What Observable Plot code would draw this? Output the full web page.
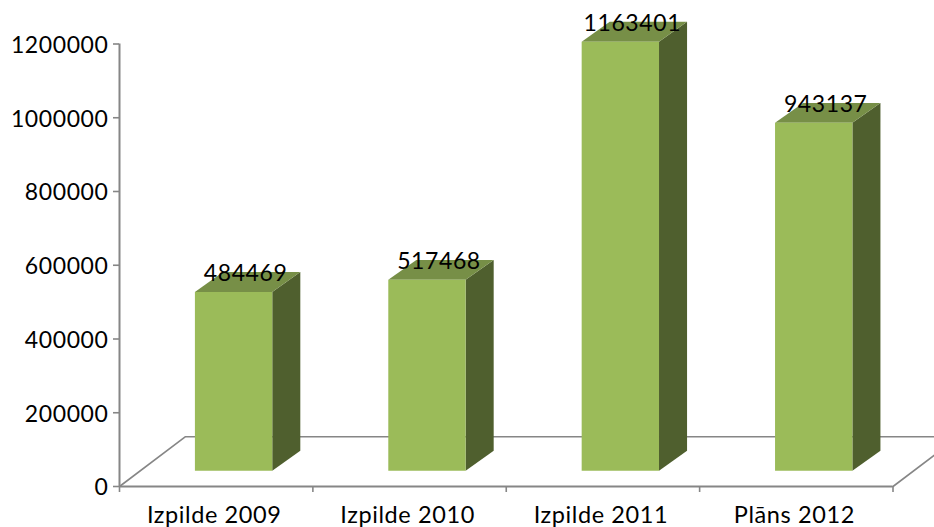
<!DOCTYPE html>
<html>
<head>
<meta charset="utf-8">
<style>html,body{margin:0;padding:0;background:#fff;overflow:hidden}</style>
<script src="https://cdn.jsdelivr.net/npm/d3@7"></script>
<script src="https://cdn.jsdelivr.net/npm/@observablehq/plot@0.6"></script>
</head>
<body>
<div id="chart"></div>
<script>
const categories = ["Izpilde 2009", "Izpilde 2010", "Izpilde 2011", "Plāns 2012"];
const values = [484469, 517468, 1163401, 943137];
const yTicks = [0, 200000, 400000, 600000, 800000, 1000000, 1200000];
const xTicks = [0, 1, 2, 3, 4];
const colFront = "#9bbb59", colSide = "#4f5f2e", colTop = "#778f47", colAxis = "#868686";

// perspective offsets, in data units
const base = 43000, depthX = 0.145, depthY = 54000, barLeft = 0.39, barWidth = 0.4;
const floorX = 66 / 193.4, floorY = 135000, rightEdgeX = 4.214, rightEdgeY = 85000;

const face = (i, v, kind) => {
  const l = i + barLeft, r = l + barWidth, b = base, t = base + v;
  const pts = kind === "front" ? [[l,b],[r,b],[r,t],[l,t]]
    : kind === "side" ? [[r,b],[r+depthX,b+depthY],[r+depthX,t+depthY],[r,t]]
    : [[l,t],[r,t],[r+depthX,t+depthY],[l+depthX,t+depthY]];
  return pts.map(([x,y]) => ({x, y, id: kind + i}));
};
const poly = kind => values.flatMap((v,i) => face(i,v,kind));

const floorBack = [{x:0,y:0},{x:floorX,y:floorY},{x:rightEdgeX,y:floorY}];
const floorRight = [{x:4,y:0},{x:rightEdgeX,y:rightEdgeY}];
const labels = values.map((v,i) => ({x:i+barLeft+barWidth/2, y:base+v, v, i}));

const plot = Plot.plot({
  width: 934, height: 527,
  marginLeft: 119, marginRight: 41.5, marginTop: 43.5, marginBottom: 41,
  x: {type:"linear", domain:[0,4], range:[119,892.5], axis:null},
  y: {type:"linear", domain:[0,1200000], range:[486,43.5], axis:null},
  style: {fontFamily:"Lato, 'Open Sans', sans-serif", fontSize:"23px", letterSpacing:"0.6px", color:"#000", background:"#fff"},
  marks: [
    Plot.line(floorBack, {x:"x", y:"y", stroke:colAxis, strokeWidth:1.6}),
    Plot.line(floorRight, {x:"x", y:"y", stroke:colAxis, strokeWidth:1.6}),
    Plot.line(poly("side"), {x:"x", y:"y", z:"id", stroke:"none", fill:colSide}),
    Plot.line(poly("top"), {x:"x", y:"y", z:"id", stroke:"none", fill:colTop}),
    Plot.line(poly("front"), {x:"x", y:"y", z:"id", stroke:"none", fill:colFront}),
    Plot.ruleX([0], {y1:0, y2:1200000, stroke:colAxis, strokeWidth:2}),
    Plot.ruleY([0], {x1:0, x2:4, stroke:colAxis, strokeWidth:2}),
    Plot.axisY({ticks:yTicks, tickSize:6, stroke:colAxis, strokeWidth:1.6, tickFormat:()=>"", label:null}),
    Plot.axisY({ticks:yTicks, tickSize:0, tickPadding:11, dy:1.5, fill:"#000", tickFormat:d3.format("d"), label:null, marginLeft:119}),
    Plot.axisX({ticks:xTicks, tickSize:6, stroke:colAxis, strokeWidth:1.6, tickFormat:()=>"", label:null}),
    Plot.axisX({ticks:[0.5,1.5,2.5,3.5], tickSize:0, tickPadding:20, fontSize:23.5, fill:"#000", dx:-2, tickFormat:d=>categories[Math.floor(d)], label:null}),
    Plot.text(labels, {x:"x", y:"y", text:d=>String(d.v), dx:12, dy:-18, fill:"#000"})
  ]
});
document.getElementById("chart").appendChild(plot);
</script>
</body>
</html>
